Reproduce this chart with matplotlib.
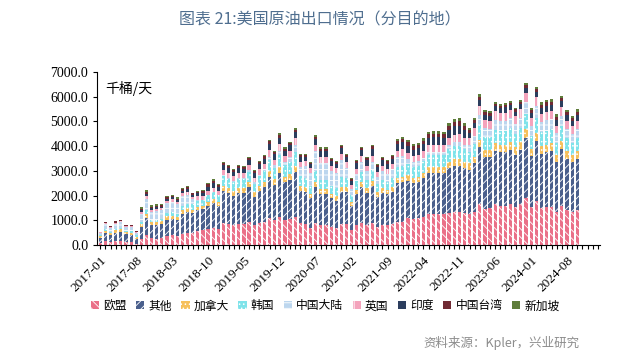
import numpy as np
import matplotlib
matplotlib.use("Agg")
import matplotlib.pyplot as plt

plt.rcParams['font.family'] = ['Noto Sans CJK SC', 'DejaVu Sans']
plt.rcParams['hatch.linewidth'] = 0.6

# 2017-01 .. 2024-10, 千桶/天
months = [f"{y}-{m:02d}" for y in range(2017, 2025) for m in range(1, 13)][:94]
axis_slots = 98  # category axis runs a few months past the data

eu = [100, 150, 130, 170, 160, 140, 120, 50,
      250, 400, 300, 250,
      300, 380, 400, 380, 450, 480, 500, 550, 600, 650, 700, 650,
      900, 850, 800, 850, 850, 950, 800, 900, 950, 1100, 1000, 1150,
      1000, 1050, 1150, 900, 850, 700, 900, 800, 800, 750, 700, 850,
      850, 600, 800, 900, 800, 900, 750, 800, 800, 850, 950, 950,
      1100, 1050, 1100, 1150, 1250, 1250, 1250, 1250, 1300, 1350, 1350, 1300,
      1250, 1350, 1650, 1450, 1500, 1650, 1600, 1600, 1650, 1550, 1650, 1900,
      1550, 1800, 1500, 1550, 1550, 1350, 1600, 1400, 1350, 1400]
other = [200, 350, 280, 330, 380, 300, 300, 200,
         500, 700, 520, 550,
         550, 650, 650, 620, 800, 850, 800, 850, 850, 950, 1000, 950,
         1300, 1250, 1200, 1250, 1250, 1400, 1150, 1300, 1400, 1650, 1450, 1750,
         1550, 1600, 1800, 1300, 1300, 1200, 1450, 1250, 1250, 1150, 1100, 1300,
         1300, 1000, 1250, 1450, 1300, 1500, 1200, 1300, 1250, 1300, 1550, 1600,
         1500, 1450, 1450, 1550, 1650, 1650, 1650, 1650, 1800, 1850, 1850, 1800,
         1800, 1950, 2300, 2100, 2050, 2150, 2150, 2150, 2200, 2100, 2200, 2450,
         2050, 2400, 2200, 2200, 2250, 2000, 2300, 2100, 2000, 2100]
canada = [60, 80, 70, 90, 100, 70, 80, 60,
          100, 150, 110, 120,
          110, 130, 140, 120, 150, 150, 130, 140, 140, 150, 160, 150,
          200, 190, 180, 200, 190, 200, 180, 200, 200, 230, 220, 240,
          220, 230, 250, 200, 200, 180, 220, 200, 200, 180, 180, 200,
          200, 150, 190, 210, 190, 210, 180, 190, 180, 190, 220, 220,
          230, 220, 220, 230, 250, 250, 250, 250, 270, 270, 280, 270,
          250, 280, 320, 290, 290, 310, 300, 300, 310, 300, 310, 340,
          300, 340, 310, 310, 310, 280, 320, 290, 280, 290]
korea = [30, 60, 50, 60, 60, 50, 50, 100,
         100, 150, 100, 110,
         100, 150, 160, 150, 180, 200, 220, 250, 250, 280, 300, 280,
         400, 380, 360, 380, 370, 420, 360, 400, 430, 480, 450, 520,
         450, 480, 550, 400, 380, 330, 420, 380, 380, 330, 320, 400,
         380, 280, 350, 400, 360, 420, 330, 360, 340, 370, 430, 440,
         450, 430, 440, 460, 480, 480, 480, 480, 520, 530, 540, 520,
         450, 500, 600, 530, 520, 560, 550, 560, 570, 540, 570, 630,
         530, 620, 560, 570, 570, 510, 580, 530, 500, 530]
china = [80, 200, 150, 200, 220, 180, 170, 80,
         300, 450, 300, 350,
         350, 400, 400, 380, 400, 350, 200, 50, 0, 0, 0, 0,
         50, 50, 50, 50, 50, 50, 50, 50, 80, 120, 100, 150,
         150, 200, 300, 350, 450, 500, 800, 700, 700, 600, 600, 700,
         400, 250, 300, 400, 350, 350, 300, 350, 300, 350, 400, 400,
         200, 200, 180, 150, 150, 150, 150, 150, 150, 150, 150, 150,
         300, 350, 400, 380, 350, 400, 400, 420, 400, 400, 420, 450,
         400, 450, 400, 420, 420, 380, 420, 380, 370, 380]
uk = [40, 60, 50, 50, 60, 40, 40, 40,
      100, 150, 100, 90,
      80, 90, 100, 90, 110, 120, 110, 130, 140, 150, 160, 150,
      200, 200, 190, 200, 200, 220, 190, 210, 220, 250, 230, 260,
      250, 260, 280, 230, 220, 200, 250, 230, 230, 200, 200, 230,
      220, 160, 200, 230, 210, 240, 200, 210, 200, 210, 250, 260,
      250, 240, 250, 260, 280, 280, 280, 280, 300, 310, 310, 300,
      280, 300, 350, 320, 320, 340, 330, 330, 340, 320, 340, 380,
      320, 370, 330, 340, 340, 310, 350, 320, 300, 320]
india = [0, 0, 0, 0, 0, 0, 0, 0,
         50, 80, 60, 60,
         60, 70, 80, 80, 100, 120, 80, 120, 130, 180, 180, 150,
         180, 190, 180, 180, 170, 200, 180, 200, 210, 250, 220, 270,
         200, 220, 240, 190, 180, 150, 250, 240, 240, 180, 190, 230,
         210, 170, 210, 240, 220, 270, 200, 220, 220, 230, 290, 310,
         280, 270, 270, 280, 280, 300, 300, 280, 330, 340, 350, 330,
         200, 210, 260, 210, 210, 200, 200, 210, 190, 180, 200, 200,
         200, 220, 250, 250, 240, 240, 240, 230, 220, 250]
taiwan = [30, 45, 50, 60, 45, 40, 35, 50,
          75, 85, 70, 70,
          55, 60, 60, 60, 70, 80, 50, 70, 75, 110, 110, 90,
          80, 80, 70, 80, 80, 85, 75, 90, 95, 110, 95, 120,
          80, 90, 95, 80, 75, 70, 95, 95, 95, 75, 75, 95,
          90, 70, 90, 95, 90, 110, 80, 90, 95, 100, 120, 130,
          140, 130, 130, 140, 140, 145, 145, 140, 160, 165, 170, 160,
          110, 110, 130, 105, 105, 100, 100, 110, 100, 95, 100, 115,
          100, 120, 130, 130, 125, 125, 125, 120, 115, 125]
singapore = [0, 0, 0, 0, 0, 0, 0, 0,
             50, 50, 45, 45,
             40, 40, 50, 50, 50, 50, 30, 40, 40, 55, 60, 50,
             50, 50, 50, 50, 50, 50, 50, 50, 55, 60, 55, 60,
             50, 50, 55, 50, 45, 40, 55, 55, 55, 45, 45, 55,
             50, 40, 50, 55, 55, 60, 50, 55, 55, 55, 70, 75,
             100, 100, 100, 100, 110, 110, 110, 110, 120, 125, 130, 120,
             80, 80, 100, 80, 80, 80, 80, 80, 80, 75, 80, 80,
             80, 90, 95, 100, 95, 95, 95, 95, 85, 95]

series = [
    ("欧盟", eu, "#EA7088", "\\\\\\\\"),
    ("其他", other, "#4A5F8C", "////"),
    ("加拿大", canada, "#F6C05C", "...."),
    ("韩国", korea, "#7FE3EA", "...."),
    ("中国大陆", china, "#BCD6EE", "---"),
    ("英国", uk, "#F4A3BC", "||"),
    ("印度", india, "#2C3E5E", None),
    ("中国台湾", taiwan, "#702A33", None),
    ("新加坡", singapore, "#5F7D3B", None),
]

fig = plt.figure(figsize=(6.4, 3.62), dpi=100)
ax = fig.add_axes([0.152, 0.323, 0.786, 0.478])

x = np.arange(len(months))
bottom = np.zeros(len(months))
handles = []
for name, vals, color, hatch in series:
    vals = np.array(vals, dtype=float)
    b = ax.bar(x, vals, 0.62, bottom=bottom, color=color, hatch=hatch,
               edgecolor="white", linewidth=0, label=name)
    bottom += vals
    handles.append(b)

ax.set_ylim(0, 7000)
ax.set_xlim(-0.6, axis_slots - 0.5)
ax.set_yticks(np.arange(0, 7001, 1000))
ax.set_yticklabels([f"{v:.1f}" for v in np.arange(0, 7001, 1000)],
                   family="Liberation Serif", fontsize=10)
ax.set_xticks(x[::7])
ax.set_xticklabels(months[::7], rotation=45, ha="right", rotation_mode="anchor",
                   family="Liberation Serif", fontsize=9.5)
ax.set_xticks(np.arange(axis_slots), minor=True)
ax.tick_params(axis="x", which="both", length=3, width=0.8, direction="out")
ax.tick_params(axis="y", length=3, width=0.8)
for s in ["top", "right"]:
    ax.spines[s].set_visible(False)
ax.spines["left"].set_linewidth(0.8)
ax.spines["bottom"].set_linewidth(0.8)

ax.text(0.015, 0.95, "千桶/天", transform=ax.transAxes, fontsize=10,
        va="top", ha="left")

fig.text(0.5, 0.945, "图表 21:美国原油出口情况（分目的地）", ha="center",
         va="center", fontsize=11.5, color="#4F6E8F")

fig.legend(handles=handles, loc="center", bbox_to_anchor=(0.508, 0.155),
           ncol=9, frameon=False, fontsize=8.5, handlelength=0.7,
           handleheight=0.7, handletextpad=0.35, columnspacing=0.8)

fig.text(0.905, 0.052, "资料来源：Kpler，兴业研究", ha="right", va="center",
         fontsize=9, color="#8C8C8C")

fig.savefig("out.png", dpi=100)
